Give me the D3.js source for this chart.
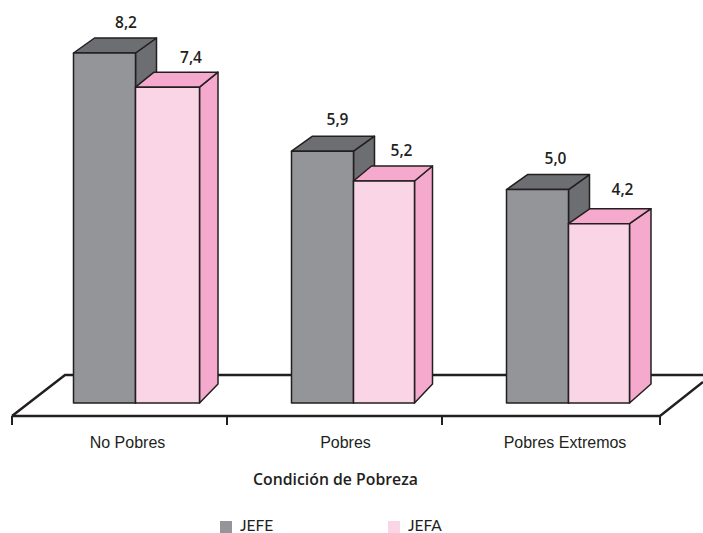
<!DOCTYPE html>
<html><head><meta charset="utf-8">
<script src="https://cdn.jsdelivr.net/npm/d3@7/dist/d3.min.js"></script>
<style>html,body{margin:0;padding:0;background:#fff;overflow:hidden}svg{display:block}</style>
</head><body><svg id="c" width="703" height="533"></svg>
<script>
const categories = ["No Pobres", "Pobres", "Pobres Extremos"];
const seriesNames = ["JEFE", "JEFA"];
const jefe = [8.2, 5.9, 5.0];
const jefa = [7.4, 5.2, 4.2];
const labelsJefe = ["8,2", "5,9", "5,0"];
const labelsJefa = ["7,4", "5,2", "4,2"];
const axisTitle = "Condición de Pobreza";

const svg = d3.select("#c");
const ink = "#231f20";
const colors = {JEFE:{front:"#939598",top:"#6d6e71",side:"#6d6e71"},JEFA:{front:"#fad5e6",top:"#f5a9cc",side:"#f5a9cc"}};
const y = d3.scaleLinear().domain([0,8.2]).range([403,53]);
const x0 = d3.scaleBand().domain(categories).range([12,657]);
const floorFront = 416, floorBack = 375, floorRight = 660;

// small per-group layout corrections, in pixels
const groupShift = [-46,-43,-43];
const jefeW = [62,62,62];
const jefaW = [64,61,61];
const jefaDepth = [18.5,18,21.5];
const labelDx = {JEFE:[52.5,46,49],JEFA:[55.5,48,54]};
const labelDy = {JEFE:[25,26,26],JEFA:[24,25,29]};
const catShift = [8,11,15.5];
const dy = 15;

// floor
const floor = svg.append("g").attr("fill","none").attr("stroke",ink).attr("stroke-width",2.5);
floor.append("path").attr("d",`M12,${floorFront}H${floorRight}L703,${floorFront-34}`);
floor.append("path").attr("d",`M12,${floorFront}L65,${floorBack}H703`);
const tickXs = categories.map(c=>x0(c)).concat([floorRight]);
floor.selectAll("line").data(tickXs).join("line")
  .attr("x1",d=>d).attr("x2",d=>d).attr("y1",floorFront).attr("y2",floorFront+9).attr("stroke-width",2);

// bars
const rows = [];
categories.forEach((c,i)=>{
  const gx = x0(c)+x0.bandwidth()/2+groupShift[i];
  rows.push({c,i,s:"JEFE",v:jefe[i],l:labelsJefe[i],left:gx,w:jefeW[i],dx:21});
  rows.push({c,i,s:"JEFA",v:jefa[i],l:labelsJefa[i],left:gx+jefeW[i],w:jefaW[i],dx:jefaDepth[i]});
});
const ordered = rows.filter(d=>d.s==="JEFE").concat(rows.filter(d=>d.s==="JEFA"));
const bars = svg.append("g").selectAll("g").data(ordered).join("g")
  .attr("stroke",ink).attr("stroke-width",1.5).attr("stroke-linejoin","round");
bars.append("path").attr("fill",d=>colors[d.s].side)
  .attr("d",d=>{const l=d.left+d.w,t=y(d.v),b=y(0);return `M${l},${t}l${d.dx},${-dy}V${b-dy-4}L${l},${b}Z`;});
bars.append("path").attr("fill",d=>colors[d.s].top)
  .attr("d",d=>{const t=y(d.v);return `M${d.left},${t}l${d.dx},${-dy}h${d.w}l${-d.dx},${dy}Z`;});
bars.append("rect").attr("fill",d=>colors[d.s].front)
  .attr("x",d=>d.left).attr("y",d=>y(d.v)).attr("width",d=>d.w).attr("height",d=>y(0)-y(d.v));

// value labels
svg.append("g").selectAll("text").data(rows).join("text")
  .attr("x",d=>d.left+labelDx[d.s][d.i])
  .attr("y",d=>y(d.v)-labelDy[d.s][d.i])
  .attr("text-anchor","middle").attr("font-family","'Open Sans'").attr("font-weight",600)
  .attr("font-size",15.5).attr("fill",ink).text(d=>d.l);

// category labels
svg.append("g").selectAll("text").data(categories).join("text")
  .attr("x",(c,i)=>x0(c)+x0.bandwidth()/2+catShift[i])
  .attr("y",448).attr("text-anchor","middle").attr("font-family","'Liberation Sans'")
  .attr("font-size",16).attr("fill",ink).text(c=>c);

svg.append("text").attr("x",335.5).attr("y",485).attr("text-anchor","middle")
  .attr("font-family","'Open Sans'").attr("font-weight",600).attr("font-size",15.8).attr("fill",ink).text(axisTitle);

// legend
const lx = d3.scaleOrdinal().domain(seriesNames).range([220,388]);
const leg = svg.append("g").selectAll("g").data(seriesNames).join("g");
leg.append("rect").attr("x",d=>lx(d)).attr("y",521).attr("width",12).attr("height",12).attr("fill",d=>colors[d].front);
leg.append("text").attr("x",d=>lx(d)+20).attr("y",531).attr("font-family","'Lato'")
  .attr("font-size",15.5).attr("fill",ink).text(d=>d);
</script></body></html>
